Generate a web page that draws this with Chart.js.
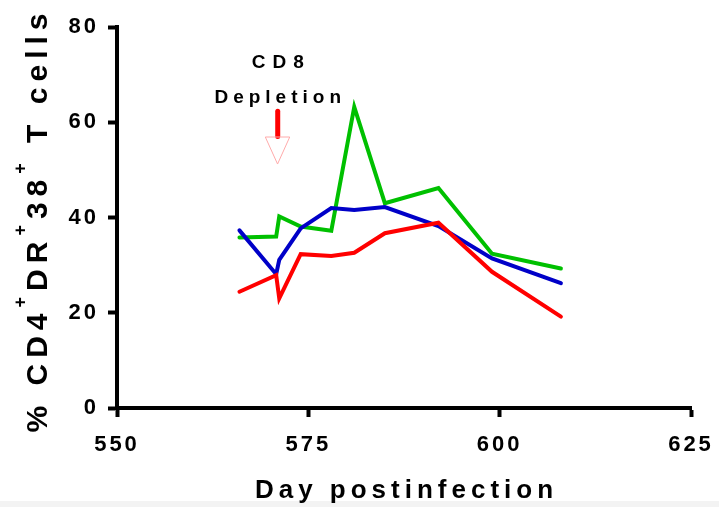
<!DOCTYPE html>
<html>
<head>
<meta charset="utf-8">
<script src="https://cdn.jsdelivr.net/npm/chart.js@4/dist/chart.umd.min.js"></script>
<style>
  html, body { margin: 0; padding: 0; background: #fff; }
  #wrap { width: 719px; height: 507px; position: relative; }
</style>
</head>
<body>
<div id="wrap"><canvas id="chart" width="719" height="507"></canvas></div>
<script>
// values
const days = [566, 570.8, 571.2, 574, 578, 581, 585, 592, 599, 608];
const redData = [24.4, 27.9, 23.0, 32.3, 31.9, 32.6, 36.7, 38.9, 28.6, 19.2];
const blueData = [37.3, 28.1, 31.1, 37.7, 42.0, 41.6, 42.2, 38.2, 31.4, 26.2];
const greenData = [35.8, 36.0, 40.2, 38.1, 37.2, 63.2, 43.0, 46.2, 32.4, 29.3];
const xTicks = [550, 575, 600, 625];
const yTicks = [0, 20, 40, 60, 80];
const depletionDay = 571;

const FONT = "'Liberation Sans', Arial, sans-serif";

function pts(ys) {
  return days.map(function(d, i) { return { x: d, y: ys[i] }; });
}

function series(label, color, ys) {
  return {
    label: label,
    data: pts(ys),
    borderColor: color,
    backgroundColor: color,
    borderWidth: 4,
    pointRadius: 0,
    tension: 0,
    fill: false,
    borderCapStyle: "round",
    borderJoinStyle: "miter"
  };
}

// grey strip at the bottom + letter spacing for tick labels
const spacing = {
  id: "spacing",
  beforeDraw: function(chart) {
    const ctx = chart.ctx;
    ctx.save();
    ctx.fillStyle = "#f3f3f3";
    ctx.fillRect(0, 501, chart.width, chart.height - 501);
    ctx.restore();
    ctx.letterSpacing = "3px";
  }
};

function centered(ctx, txt, cx, y, sp) {
  ctx.letterSpacing = sp + "px";
  const w = ctx.measureText(txt).width - sp;
  ctx.fillText(txt, cx - w / 2, y);
}

const labels = {
  id: "labels",
  afterDraw: function(chart) {
    const ctx = chart.ctx;
    const xs = chart.scales.x;
    const ys = chart.scales.y;
    ctx.save();
    ctx.fillStyle = "#000";
    ctx.textBaseline = "alphabetic";
    ctx.textAlign = "left";

    // x title
    ctx.font = "bold 26px " + FONT;
    centered(ctx, "Day postinfection", (chart.chartArea.left + chart.chartArea.right) / 2, 498, 5);

    // y title with superscripts
    const parts = [
      ["% CD4", false], ["+", true], ["DR", false], ["+", true],
      ["38", false], ["+", true], [" T cells", false]
    ];
    const big = "bold 30px " + FONT;
    const small = "bold 18px " + FONT;
    ctx.letterSpacing = "6px";
    let total = 0;
    parts.forEach(function(p) {
      ctx.font = p[1] ? small : big;
      total += ctx.measureText(p[0]).width;
    });
    total -= 6;
    ctx.translate(47, 223);
    ctx.rotate(-Math.PI / 2);
    let px = -total / 2;
    parts.forEach(function(p) {
      ctx.font = p[1] ? small : big;
      ctx.fillText(p[0], px, p[1] ? -21 : 0);
      px += ctx.measureText(p[0]).width;
    });
    ctx.setTransform(1, 0, 0, 1, 0, 0);

    // CD8 depletion note
    const ax = xs.getPixelForValue(depletionDay);
    ctx.font = "bold 19px " + FONT;
    centered(ctx, "CD8", ax, ys.getPixelForValue(71.4), 7);
    centered(ctx, "Depletion", ax, ys.getPixelForValue(64), 5);

    ctx.letterSpacing = "0px";
    ctx.strokeStyle = "#ff0000";
    ctx.lineWidth = 5;
    ctx.lineCap = "round";
    ctx.beginPath();
    ctx.moveTo(ax, ys.getPixelForValue(62.3));
    ctx.lineTo(ax, ys.getPixelForValue(57));
    ctx.stroke();

    const triTop = ys.getPixelForValue(56.9);
    const triTip = ys.getPixelForValue(51.3);
    ctx.strokeStyle = "#ffaaaa";
    ctx.lineWidth = 1;
    ctx.beginPath();
    ctx.moveTo(ax - 12, triTop);
    ctx.lineTo(ax + 12, triTop);
    ctx.lineTo(ax, triTip);
    ctx.closePath();
    ctx.stroke();
    ctx.restore();
  }
};

const config = {
  type: "line",
  data: {
    datasets: [
      series("Red", "#ff0000", redData),
      series("Blue", "#0000c8", blueData),
      series("Green", "#00c000", greenData)
    ]
  },
  options: {
    responsive: false,
    animation: false,
    layout: { padding: { left: 0, top: 27, right: 28, bottom: 0 } },
    plugins: {
      legend: { display: false },
      tooltip: { enabled: false }
    },
    scales: {
      x: {
        type: "linear",
        min: 550,
        max: 625,
        afterBuildTicks: function(scale) {
          scale.ticks = xTicks.map(function(v) { return { value: v }; });
        },
        afterFit: function(scale) {
          scale.height = 99;
          scale.paddingLeft = 0;
          scale.paddingRight = 0;
        },
        grid: {
          display: true,
          drawOnChartArea: false,
          drawTicks: true,
          tickLength: 9,
          tickWidth: 4,
          tickColor: "#000"
        },
        border: { display: true, width: 4, color: "#000" },
        ticks: {
          color: "#000",
          padding: 15,
          maxRotation: 0,
          font: { family: FONT, size: 22, weight: "bold" }
        }
      },
      y: {
        min: 0,
        max: 80,
        afterBuildTicks: function(scale) {
          scale.ticks = yTicks.map(function(v) { return { value: v }; });
        },
        afterFit: function(scale) {
          scale.width = 117;
          scale.paddingTop = 0;
          scale.paddingBottom = 0;
        },
        grid: {
          display: true,
          drawOnChartArea: false,
          drawTicks: true,
          tickLength: 9,
          tickWidth: 4,
          tickColor: "#000"
        },
        border: { display: true, width: 4, color: "#000" },
        ticks: {
          color: "#000",
          padding: 9,
          font: { family: FONT, size: 22, weight: "bold" }
        }
      }
    }
  },
  plugins: [spacing, labels]
};

const chart = new Chart(document.getElementById("chart"), config);
</script>
</body>
</html>
